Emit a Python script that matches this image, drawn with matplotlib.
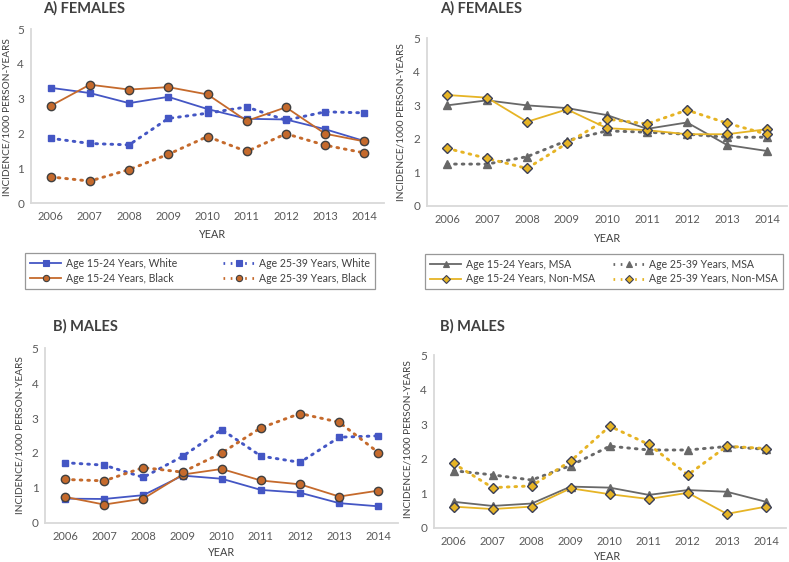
import matplotlib
matplotlib.use("Agg")
import matplotlib.pyplot as plt
from matplotlib.lines import Line2D

plt.rcParams["font.family"] = ["Lato", "DejaVu Sans"]

years = ["2006", "2007", "2008", "2009", "2010", "2011", "2012", "2013", "2014"]

# females, by race
fem_white_1524 = [3.31, 3.16, 2.87, 3.05, 2.70, 2.42, 2.40, 2.12, 1.78]
fem_white_2539 = [1.86, 1.71, 1.67, 2.43, 2.58, 2.76, 2.38, 2.62, 2.59]
fem_black_1524 = [2.79, 3.40, 3.26, 3.33, 3.12, 2.36, 2.75, 1.99, 1.77]
fem_black_2539 = [0.75, 0.63, 0.96, 1.40, 1.91, 1.48, 1.99, 1.66, 1.44]

# males, by race
male_white_1524 = [0.69, 0.68, 0.79, 1.35, 1.26, 0.94, 0.86, 0.56, 0.47]
male_white_2539 = [1.72, 1.65, 1.30, 1.90, 2.67, 1.91, 1.73, 2.45, 2.49]
male_black_1524 = [0.74, 0.52, 0.69, 1.38, 1.54, 1.21, 1.10, 0.75, 0.92]
male_black_2539 = [1.24, 1.20, 1.58, 1.45, 2.00, 2.72, 3.13, 2.88, 2.01]

# females, by MSA
fem_msa_1524 = [3.00, 3.15, 3.00, 2.92, 2.71, 2.30, 2.49, 1.82, 1.64]
fem_msa_2539 = [1.25, 1.25, 1.47, 1.95, 2.24, 2.20, 2.14, 2.05, 2.05]
fem_non_1524 = [3.31, 3.23, 2.51, 2.88, 2.32, 2.26, 2.14, 2.14, 2.29]
fem_non_2539 = [1.72, 1.42, 1.12, 1.87, 2.59, 2.45, 2.86, 2.47, 2.14]

# males, by MSA
male_msa_1524 = [0.75, 0.63, 0.70, 1.19, 1.16, 0.95, 1.09, 1.04, 0.75]
male_msa_2539 = [1.65, 1.53, 1.38, 1.80, 2.36, 2.25, 2.25, 2.35, 2.27]
male_non_1524 = [0.61, 0.54, 0.61, 1.14, 0.97, 0.83, 1.01, 0.40, 0.61]
male_non_2539 = [1.86, 1.16, 1.21, 1.93, 2.94, 2.41, 1.53, 2.36, 2.29]

BLUE = "#4456c4"
ORANGE = "#c56a2c"
GRAY = "#686868"
GOLD = "#e6b425"
EDGE = "#3b3f55"
TXT = "#404040"
TICK = "#595959"
DOT = (0, (0.6, 2.0))

race_styles = [
    ("Age 15-24 Years, White", BLUE, "-", "s", BLUE, BLUE),
    ("Age 25-39 Years, White", BLUE, DOT, "s", BLUE, BLUE),
    ("Age 15-24 Years, Black", ORANGE, "-", "o", ORANGE, TXT),
    ("Age 25-39 Years, Black", ORANGE, DOT, "o", ORANGE, TXT),
]
msa_styles = [
    ("Age 15-24 Years, MSA", GRAY, "-", "^", GRAY, GRAY),
    ("Age 25-39 Years, MSA", GRAY, DOT, "^", GRAY, GRAY),
    ("Age 15-24 Years, Non-MSA", GOLD, "-", "D", GOLD, EDGE),
    ("Age 25-39 Years, Non-MSA", GOLD, DOT, "D", GOLD, EDGE),
]
marker_size = {"s": 5.0, "o": 6.0, "^": 6.0, "D": 5.0}


def panel(fig, rect, title, series, styles, title_xy, ylab_xy, year_xy):
    ax = fig.add_axes(rect)
    x = list(range(len(years)))
    for vals, (lab, col, ls, mk, fc, ec) in zip(series, styles):
        lw = 1.3 if ls == "-" else 2.1
        ax.plot(x, vals, color=col, linestyle=ls, linewidth=lw,
                dash_capstyle="round", marker=mk, markersize=marker_size[mk],
                markerfacecolor=fc, markeredgecolor=ec, markeredgewidth=1.0)
    ax.set_xlim(-0.5, 8.5)
    ax.set_ylim(0, 5)
    ax.set_xticks(x)
    ax.set_xticklabels(years)
    ax.set_yticks(range(6))
    for s in ["top", "right"]:
        ax.spines[s].set_visible(False)
    for s in ["left", "bottom"]:
        ax.spines[s].set_color("#d9d9d9")
        ax.spines[s].set_linewidth(1.3)
    ax.tick_params(length=0, labelsize=8, colors=TICK)
    ax.tick_params(axis="x", pad=6)
    ax.tick_params(axis="y", pad=5, labelsize=8.5)
    fig.text(title_xy[0] / 789, 1 - title_xy[1] / 562, title, fontsize=10.5,
             fontweight="bold", color=TXT, va="center", ha="left")
    fig.text(ylab_xy[0] / 789, 1 - ylab_xy[1] / 562, "INCIDENCE/1000 PERSON-YEARS",
             rotation=90, fontsize=7.3, color=TXT, va="center", ha="center")
    fig.text(year_xy[0] / 789, 1 - year_xy[1] / 562, "YEAR", fontsize=7.8,
             color=TXT, va="center", ha="center")
    return ax


def legend(fig, styles, box):
    handles = []
    for lab, col, ls, mk, fc, ec in styles:
        lw = 1.3 if ls == "-" else 2.0
        handles.append(Line2D([], [], color=col, linestyle=ls, linewidth=lw,
                              marker=mk, markersize=4.5, markerfacecolor=fc,
                              markeredgecolor=ec, markeredgewidth=0.8))
    order = [0, 2, 1, 3]
    leg = fig.legend([handles[i] for i in order], [styles[i][0] for i in order],
                     ncol=2, loc="center",
                     bbox_to_anchor=(box[0] / 789, 1 - box[3] / 562,
                                     (box[2] - box[0]) / 789, (box[3] - box[1]) / 562),
                     mode="expand", fontsize=7.6, frameon=True, fancybox=False,
                     handlelength=3.0, numpoints=1, borderpad=0.45,
                     labelspacing=0.35, columnspacing=1.5, handletextpad=0.4,
                     borderaxespad=0)
    leg.get_frame().set_edgecolor("#7f7f7f")
    leg.get_frame().set_linewidth(0.9)
    for t in leg.get_texts():
        t.set_color(TXT)


fig = plt.figure(figsize=(7.89, 5.62), dpi=100)

panel(fig, [31 / 789, 1 - 203 / 562, 353 / 789, 174 / 562], "A) FEMALES",
      [fem_white_1524, fem_white_2539, fem_black_1524, fem_black_2539],
      race_styles, (43, 8), (7, 117), (213, 234))
panel(fig, [427 / 789, 1 - 206 / 562, 360 / 789, 167.7 / 562], "A) FEMALES",
      [fem_msa_1524, fem_msa_2539, fem_non_1524, fem_non_2539],
      msa_styles, (440, 8), (401, 122), (608, 238))
panel(fig, [45.4 / 789, 1 - 522.7 / 562, 352.6 / 789, 174.4 / 562], "B) MALES",
      [male_white_1524, male_white_2539, male_black_1524, male_black_2539],
      race_styles, (53, 326), (20, 435), (222, 553))
panel(fig, [434 / 789, 1 - 527.7 / 562, 351.5 / 789, 172.7 / 562], "B) MALES",
      [male_msa_1524, male_msa_2539, male_non_1524, male_non_2539],
      msa_styles, (440, 326), (408, 439), (608, 557))

legend(fig, race_styles, (25, 255, 375, 287))
legend(fig, msa_styles, (425, 255, 783, 288))

fig.savefig("out.png", dpi=100, facecolor="white")
